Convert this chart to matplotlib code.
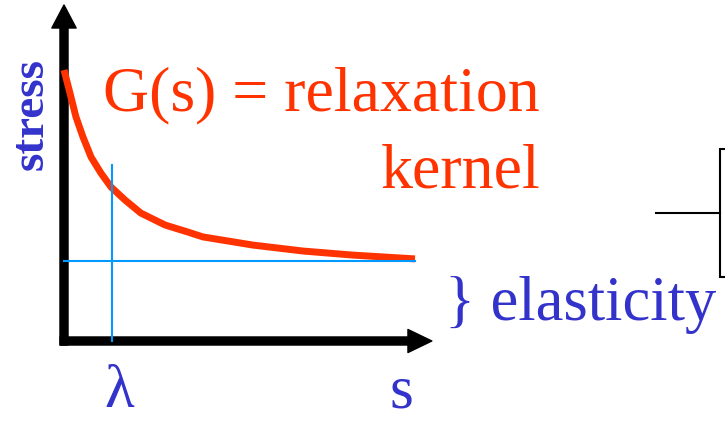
import matplotlib
matplotlib.use("Agg")
import matplotlib.pyplot as plt

# relaxation kernel G(s)
s_vals = [0.0, 0.17, 0.34, 0.54, 0.77, 1.05, 1.34, 1.74, 2.19, 2.88, 3.53,
          3.96, 5.38, 6.81, 8.23, 10.0]
g_vals = [10.0, 9.15, 8.27, 7.53, 6.79, 6.20, 5.68, 5.20, 4.72, 4.28, 4.02,
          3.84, 3.54, 3.32, 3.17, 3.03]

lam = 1.37          # relaxation time marker
lam_top = 6.5
elastic = 2.95      # long-time plateau
s_end = 10.0

# small bracket at the right edge
bracket_x = [18.83, 18.69, 18.69, 18.83]
bracket_y = [7.08, 7.08, 2.36, 2.36]
stub_x = [16.87, 18.69]
stub_y = [4.72, 4.72]

red = '#ff3300'
blue_txt = '#3333cc'
blue_ln = '#0099ff'
serif = ['Liberation Serif', 'DejaVu Serif']

W, H = 725, 421
fig = plt.figure(figsize=(W / 100, H / 100), dpi=100)
ax = fig.add_axes([0, 0, 1, 1])
ax.axis('off')
ax.set_xlim(-64 / 35.1, (W - 64) / 35.1)
ax.set_ylim(-80 / 27.1, (H - 80) / 27.1)

# axes arrows
ax.annotate('', xy=(0, 12.4), xytext=(0, -0.15),
            arrowprops=dict(arrowstyle='simple,head_length=1.66,head_width=1.75,tail_width=0.58',
                            mutation_scale=10, color='black', shrinkA=0, shrinkB=0))
ax.annotate('', xy=(10.48, 0), xytext=(-0.11, 0),
            arrowprops=dict(arrowstyle='simple,head_length=1.72,head_width=1.66,tail_width=0.58',
                            mutation_scale=10, color='black', shrinkA=0, shrinkB=0))

ax.plot(s_vals, g_vals, color=red, lw=5, solid_capstyle='butt',
        solid_joinstyle='round', zorder=3)
ax.plot([0, s_end], [elastic, elastic], color=blue_ln, lw=1.5, zorder=4)
ax.plot([lam, lam], [0, lam_top], color=blue_ln, lw=1.5, zorder=4)

ax.plot(bracket_x, bracket_y, color='black', lw=1.5, solid_joinstyle='miter')
ax.plot(stub_x, stub_y, color='black', lw=1.5)


def px(x, y):
    return x / W, 1 - y / H


fig.text(*px(103, 110), 'G(s) = relaxation', color=red, fontsize=46,
         family=serif, ha='left', va='baseline')
fig.text(*px(540, 188), 'kernel', color=red, fontsize=46,
         family=serif, ha='right', va='baseline')
fig.text(*px(445, 320), '} elasticity', color=blue_txt, fontsize=45,
         family=serif, ha='left', va='baseline')
fig.text(*px(104, 407), 'λ', color=blue_txt, fontsize=44,
         family=serif, ha='left', va='baseline')
fig.text(*px(389, 407), 's', color=blue_txt, fontsize=44,
         family=serif, ha='left', va='baseline')
fig.text(*px(43, 170), 'stress', color=blue_txt, fontsize=34, fontweight='bold',
         family=serif, rotation=90, rotation_mode='anchor', ha='left', va='baseline')

fig.savefig('out.png', dpi=100)
